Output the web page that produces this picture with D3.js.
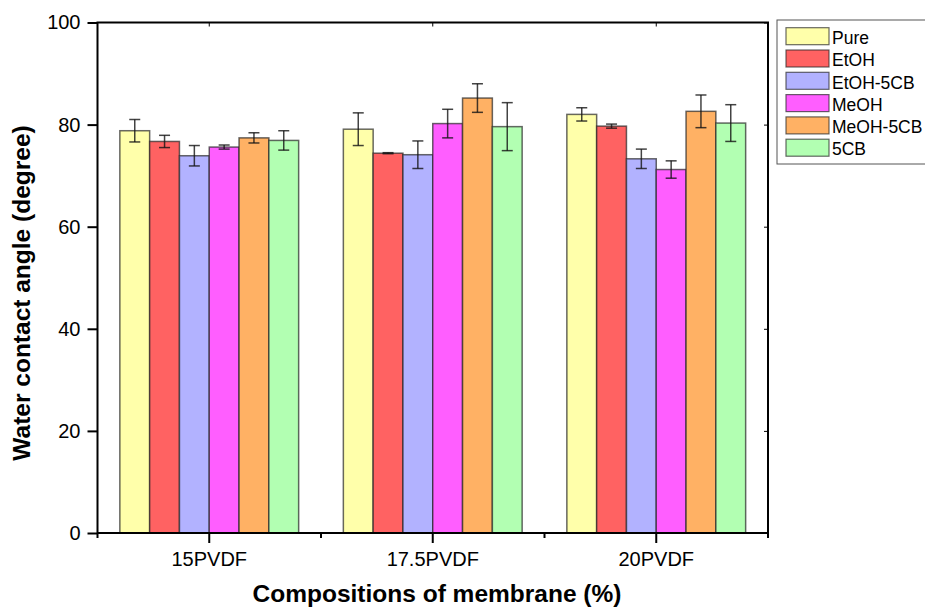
<!DOCTYPE html>
<html>
<head>
<meta charset="utf-8">
<script src="https://cdn.jsdelivr.net/npm/d3@7"></script>
<style>
  html, body { margin: 0; padding: 0; background: #fff; }
  svg { display: block; font-family: Arial, "Liberation Sans", sans-serif; }
</style>
</head>
<body>
<svg id="chart" width="925" height="610"></svg>
<script>
// Membrane compositions (x categories)
const categories = ["15PVDF", "17.5PVDF", "20PVDF"];
// Additive series
const seriesNames = ["Pure", "EtOH", "EtOH-5CB", "MeOH", "MeOH-5CB", "5CB"];
const seriesColors = ["#ffffaa", "#ff6262", "#b2b2ff", "#ff5eff", "#ffb164", "#b2ffb2"];
// Mean water contact angle (degree), one row per series, one value per category
const pureVals   = [78.8, 79.1, 82.0];
const etohVals   = [76.7, 74.4, 79.7];
const etoh5Vals  = [73.9, 74.1, 73.3];
const meohVals   = [75.6, 80.2, 71.2];
const meoh5Vals  = [77.4, 85.2, 82.6];
const cb5Vals    = [76.9, 79.6, 80.3];
// Standard deviations
const pureErr  = [2.2, 3.2, 1.3];
const etohErr  = [1.2, 0.1, 0.4];
const etoh5Err = [2.0, 2.7, 1.9];
const meohErr  = [0.4, 2.8, 1.7];
const meoh5Err = [1.0, 2.8, 3.2];
const cb5Err   = [1.9, 4.7, 3.6];
const yTicks = [0, 20, 40, 60, 80, 100];

const values = [pureVals, etohVals, etoh5Vals, meohVals, meoh5Vals, cb5Vals];
const errors = [pureErr, etohErr, etoh5Err, meohErr, meoh5Err, cb5Err];

const FONT = "Arial, 'Liberation Sans', sans-serif";
const svg = d3.select("#chart");
const L = 97.5, R = 768, T = 22.5, B = 533;

const x0 = d3.scaleBand().domain(categories).range([L, R]).paddingInner(0.2).paddingOuter(0.1);
const xOuter = d3.scaleBand().domain(categories).range([L, R]);
const x1 = d3.scaleBand().domain(seriesNames).range([0, x0.bandwidth()]);
const y = d3.scaleLinear().domain([0, 100]).range([B, T]);

const rows = [];
seriesNames.forEach((s, i) => {
  categories.forEach((c, j) => {
    rows.push({ series: s, cat: c, v: values[i][j], e: errors[i][j], color: seriesColors[i] });
  });
});

// Bars
const g = svg.append("g");
g.selectAll("rect.bar").data(rows).enter().append("rect")
  .attr("class", "bar")
  .attr("x", d => x0(d.cat) + x1(d.series))
  .attr("y", d => y(d.v))
  .attr("width", x1.bandwidth())
  .attr("height", d => y(0) - y(d.v))
  .attr("fill", d => d.color)
  .attr("stroke", "rgba(40,40,40,0.7)")
  .attr("stroke-width", 1.5);

// Error bars
const eb = g.selectAll("g.err").data(rows).enter().append("g")
  .attr("class", "err")
  .attr("stroke", "rgba(20,20,20,0.8)")
  .attr("stroke-width", 1.5);
const cx = d => x0(d.cat) + x1(d.series) + x1.bandwidth() / 2;
eb.append("line").attr("x1", cx).attr("x2", cx)
  .attr("y1", d => y(d.v + d.e)).attr("y2", d => y(d.v - d.e));
eb.append("line").attr("x1", d => cx(d) - 5.5).attr("x2", d => cx(d) + 5.5)
  .attr("y1", d => y(d.v + d.e)).attr("y2", d => y(d.v + d.e));
eb.append("line").attr("x1", d => cx(d) - 5.5).attr("x2", d => cx(d) + 5.5)
  .attr("y1", d => y(d.v - d.e)).attr("y2", d => y(d.v - d.e));

// Frame
svg.append("rect").attr("x", L).attr("y", T).attr("width", R - L).attr("height", B - T)
  .attr("fill", "none").attr("stroke", "#000").attr("stroke-width", 2);

// Y axis
const yAxis = svg.append("g").attr("transform", `translate(${L},0)`)
  .call(d3.axisLeft(y).tickValues(yTicks).tickSize(10).tickPadding(7));
yAxis.select(".domain").remove();
yAxis.selectAll(".tick line").attr("stroke-width", 2);
yAxis.selectAll(".tick text").attr("font-size", 20).attr("fill", "#000")
  .style("font-family", FONT);

// Right mirrored ticks (inward)
svg.append("g").attr("transform", `translate(${R},0)`)
  .call(d3.axisLeft(y).tickValues(yTicks).tickSize(4).tickFormat(""))
  .call(a => a.select(".domain").remove())
  .selectAll(".tick line").attr("stroke-width", 1);

// X axis: major ticks at category centres, minor ticks at group boundaries
const xAxis = svg.append("g").attr("transform", `translate(0,${B})`)
  .call(d3.axisBottom(x0).tickSize(10).tickPadding(9).tickSizeOuter(0));
xAxis.select(".domain").remove();
xAxis.selectAll(".tick line").attr("stroke-width", 2);
xAxis.selectAll(".tick text").attr("font-size", 20).attr("fill", "#000")
  .style("font-family", FONT);

const bounds = categories.map(c => xOuter(c)).concat([R]);
svg.append("g").selectAll("line").data(bounds).enter().append("line")
  .attr("x1", d => d).attr("x2", d => d).attr("y1", B).attr("y2", B + 5)
  .attr("stroke", "#000").attr("stroke-width", 2);

// Top mirrored ticks (inward)
svg.append("g").selectAll("line").data(categories).enter().append("line")
  .attr("x1", d => x0(d) + x0.bandwidth() / 2).attr("x2", d => x0(d) + x0.bandwidth() / 2)
  .attr("y1", T).attr("y2", T + 4).attr("stroke", "#000").attr("stroke-width", 1);

// Axis titles
svg.append("text").attr("x", 437).attr("y", 602).attr("text-anchor", "middle")
  .attr("font-size", 24.5).attr("font-weight", "bold").style("font-family", FONT)
  .text("Compositions of membrane (%)");
svg.append("text").attr("transform", "translate(30,293) rotate(-90)").attr("text-anchor", "middle")
  .attr("font-size", 24.5).attr("font-weight", "bold").style("font-family", FONT)
  .text("Water contact angle (degree)");

// Legend
const lg = svg.append("g");
lg.append("rect").attr("x", 777).attr("y", 20).attr("width", 160).attr("height", 144)
  .attr("fill", "#fff").attr("stroke", "#555").attr("stroke-width", 1);
const items = lg.selectAll("g.item").data(seriesNames).enter().append("g")
  .attr("transform", (d, i) => `translate(786,${27.7 + i * 22.3})`);
items.append("rect").attr("width", 43).attr("height", 17)
  .attr("fill", (d, i) => seriesColors[i]).attr("stroke", "rgba(40,40,40,0.7)").attr("stroke-width", 1.2);
items.append("text").attr("x", 46).attr("y", 16.3).attr("font-size", 17.5)
  .style("font-family", FONT).text(d => d);
</script>
</body>
</html>
